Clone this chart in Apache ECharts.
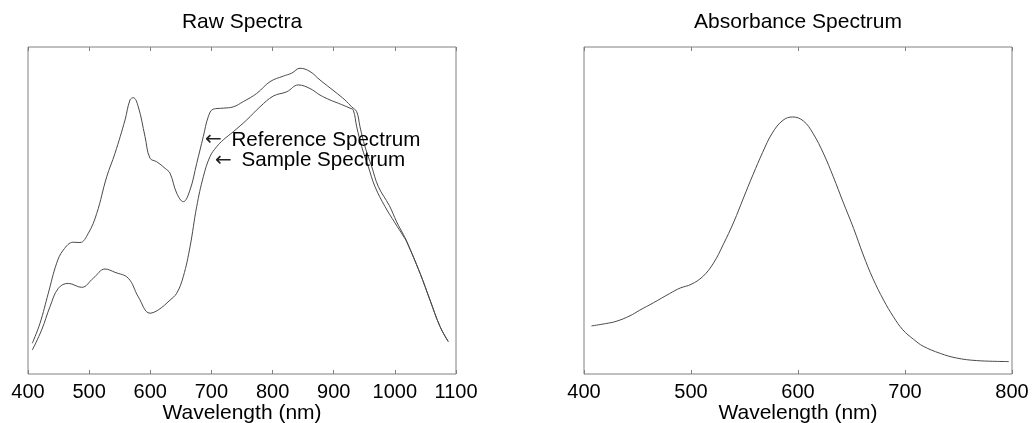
<!DOCTYPE html>
<html>
<head>
<meta charset="utf-8">
<script src="https://cdn.jsdelivr.net/npm/echarts@6/dist/echarts.min.js"></script>
<style>
html,body{margin:0;padding:0;background:#fff;}
#c{width:1032px;height:423px;}
</style>
</head>
<body>
<div id="c"></div>
<script>
// ---- Data ----
var titles = ['Raw Spectra', 'Absorbance Spectrum'];
var xAxisName = 'Wavelength (nm)';
var rawTicks = [400, 500, 600, 700, 800, 900, 1000, 1100];
var absTicks = [400, 500, 600, 700, 800];

var refX = [407, 419.6, 433.2, 446.9, 457.7, 474.1, 485, 498.6, 512.4, 528.7, 542.3, 558.7, 566.8, 572.2, 580.4, 591.4, 599.5, 610.5, 624.1, 632.3, 643.2, 654, 665, 675.9, 686.7, 694.9, 703.1, 719.4, 735.8, 752.1, 774.1, 795.8, 817.6, 831.3, 844.9, 861.2, 877.6, 902.1, 918.4, 929.4, 937.6, 943, 951.2, 962.2, 973, 991, 1003, 1013.8, 1019.4, 1041.2, 1057.5, 1073.9, 1087.4];
var refY = [9.4, 15.5, 24.7, 33.9, 37.9, 40.3, 40.2, 43.0, 49.1, 60.3, 67.5, 77.7, 83.8, 84.5, 81.7, 72.6, 66.0, 64.9, 62.9, 61.4, 55.3, 52.7, 56.3, 64.4, 72.6, 78.7, 81.0, 81.3, 81.7, 83.3, 85.8, 89.4, 91.1, 92.0, 93.5, 92.5, 89.9, 86.3, 83.8, 81.7, 80.2, 75.6, 69.5, 63.4, 57.3, 51.5, 46.5, 42.7, 40.6, 30.8, 22.6, 14.5, 9.9];

var sampleX = [407, 422.4, 436, 449.6, 465.9, 487.8, 506.8, 525.9, 542.3, 564, 580.4, 599.5, 613.1, 632.3, 643.2, 654, 665, 675.9, 686.7, 697.7, 708.6, 719.4, 735.8, 757.7, 779.4, 801.2, 823.1, 842.1, 861.2, 877.6, 894, 907.5, 926.6, 932, 937.6, 945.8, 956.6, 967.5, 983.9, 1000.2, 1013.8, 1019.4, 1041.2, 1057.5, 1073.9, 1087.4];
var sampleY = [7.3, 13.5, 20.6, 26.2, 27.7, 26.5, 29.3, 32.1, 31.1, 29.3, 23.6, 18.6, 19.6, 22.6, 24.7, 29.8, 38.9, 51.2, 60.3, 66.5, 69.5, 71.6, 74.1, 77.7, 81.7, 85.0, 86.3, 88.4, 87.3, 85.3, 83.8, 82.8, 81.3, 80.7, 75.6, 69.5, 63.4, 57.3, 51.2, 46.2, 42.2, 40.4, 30.8, 22.6, 14.5, 9.9];

var absX = [407, 420, 430, 443, 452, 465, 480, 490, 500, 511, 521, 530, 540, 549, 558, 567, 576, 586, 595, 605, 614, 624, 633, 642, 652, 661, 670, 680, 689, 698, 708, 717, 733, 748, 767, 797];
var absY = [14.7, 15.4, 16.1, 17.8, 19.5, 21.8, 24.6, 26.3, 27.4, 29.8, 33.9, 39.5, 46.5, 53.8, 61.0, 67.8, 73.7, 77.6, 78.6, 77.4, 73.6, 67.3, 60.3, 52.7, 44.5, 36.4, 29.2, 22.6, 17.6, 13.5, 10.6, 8.5, 6.3, 4.9, 4.1, 3.8];

var refLabel = 'Reference Spectrum';
var sampleLabel = 'Sample Spectrum';
var refArrowAt = [689.5, 71.6];
var sampleArrowAt = [705.9, 65.2];

function pairs(xs, ys) { return xs.map(function (x, i) { return [x, ys[i]]; }); }

var FONT = "'Liberation Sans', Arial, sans-serif";
var BORDER = '#808080';
var LINE = '#4a4a4a';

function bottomAxis(grid, min, max) {
  return {
    type: 'value', gridIndex: grid, position: 'bottom', min: min, max: max, interval: 100,
    splitLine: { show: false },
    axisLine: { show: false },
    axisTick: { show: true, inside: true, length: 4, lineStyle: { color: BORDER } },
    axisLabel: { show: true, fontSize: 20, color: '#000', fontFamily: FONT, margin: 8,
      formatter: function (v) { return String(v); } },
    name: xAxisName, nameLocation: 'middle', nameGap: 29, nameMoveOverlap: false,
    nameTextStyle: { fontSize: 21, color: '#000', fontFamily: FONT, verticalAlign: 'top' }
  };
}
function topAxis(grid, min, max) {
  return {
    type: 'value', gridIndex: grid, position: 'top', min: min, max: max, interval: 100,
    splitLine: { show: false },
    axisLine: { show: false },
    axisTick: { show: true, inside: true, length: 4, lineStyle: { color: BORDER } },
    axisLabel: { show: false }
  };
}
function yAxis(grid) {
  return { type: 'value', gridIndex: grid, min: 0, max: 100, show: false };
}
function arrowLabel(text) {
  return {
    show: true, position: 'right', distance: 0,
    formatter: '{a|\u2190}' + ' ' + text,
    fontSize: 20.6, color: '#000', fontFamily: FONT,
    rich: { a: { fontFamily: "'DejaVu Sans'", fontSize: 20, color: '#222', padding: [0, 4, 0, 0] } }
  };
}

var chart = echarts.init(document.getElementById('c'), null, { renderer: 'canvas' });
chart.setOption({
  animation: false,
  backgroundColor: '#fff',
  title: [
    { text: titles[0], left: 242, top: 12, textAlign: 'center', padding: 0,
      textStyle: { fontSize: 21, fontWeight: 'normal', color: '#000', fontFamily: FONT } },
    { text: titles[1], left: 798, top: 12, textAlign: 'center', padding: 0,
      textStyle: { fontSize: 21, fontWeight: 'normal', color: '#000', fontFamily: FONT } }
  ],
  grid: [
    { left: 28, top: 47, width: 428, height: 327, show: true, borderColor: BORDER, borderWidth: 1,
      backgroundColor: 'transparent', containLabel: false, outerBoundsMode: 'none' },
    { left: 584, top: 47, width: 428, height: 327, show: true, borderColor: BORDER, borderWidth: 1,
      backgroundColor: 'transparent', containLabel: false, outerBoundsMode: 'none' }
  ],
  xAxis: [
    bottomAxis(0, rawTicks[0], rawTicks[rawTicks.length - 1]),
    topAxis(0, rawTicks[0], rawTicks[rawTicks.length - 1]),
    bottomAxis(1, absTicks[0], absTicks[absTicks.length - 1]),
    topAxis(1, absTicks[0], absTicks[absTicks.length - 1])
  ],
  yAxis: [yAxis(0), yAxis(1)],
  series: [
    {
      name: 'Reference Spectrum', type: 'line', xAxisIndex: 0, yAxisIndex: 0,
      data: pairs(refX, refY), showSymbol: false, smooth: 0.4,
      lineStyle: { color: LINE, width: 1 },
      markPoint: {
        symbol: 'circle', symbolSize: 0, silent: true,
        data: [{ coord: refArrowAt }],
        label: arrowLabel(refLabel)
      }
    },
    {
      name: 'Sample Spectrum', type: 'line', xAxisIndex: 0, yAxisIndex: 0,
      data: pairs(sampleX, sampleY), showSymbol: false, smooth: 0.4,
      lineStyle: { color: LINE, width: 1 },
      markPoint: {
        symbol: 'circle', symbolSize: 0, silent: true,
        data: [{ coord: sampleArrowAt }],
        label: arrowLabel(sampleLabel)
      }
    },
    {
      name: 'Absorbance', type: 'line', xAxisIndex: 2, yAxisIndex: 1,
      data: pairs(absX, absY), showSymbol: false, smooth: 0.4,
      lineStyle: { color: LINE, width: 1 }
    }
  ]
});
</script>
</body>
</html>
